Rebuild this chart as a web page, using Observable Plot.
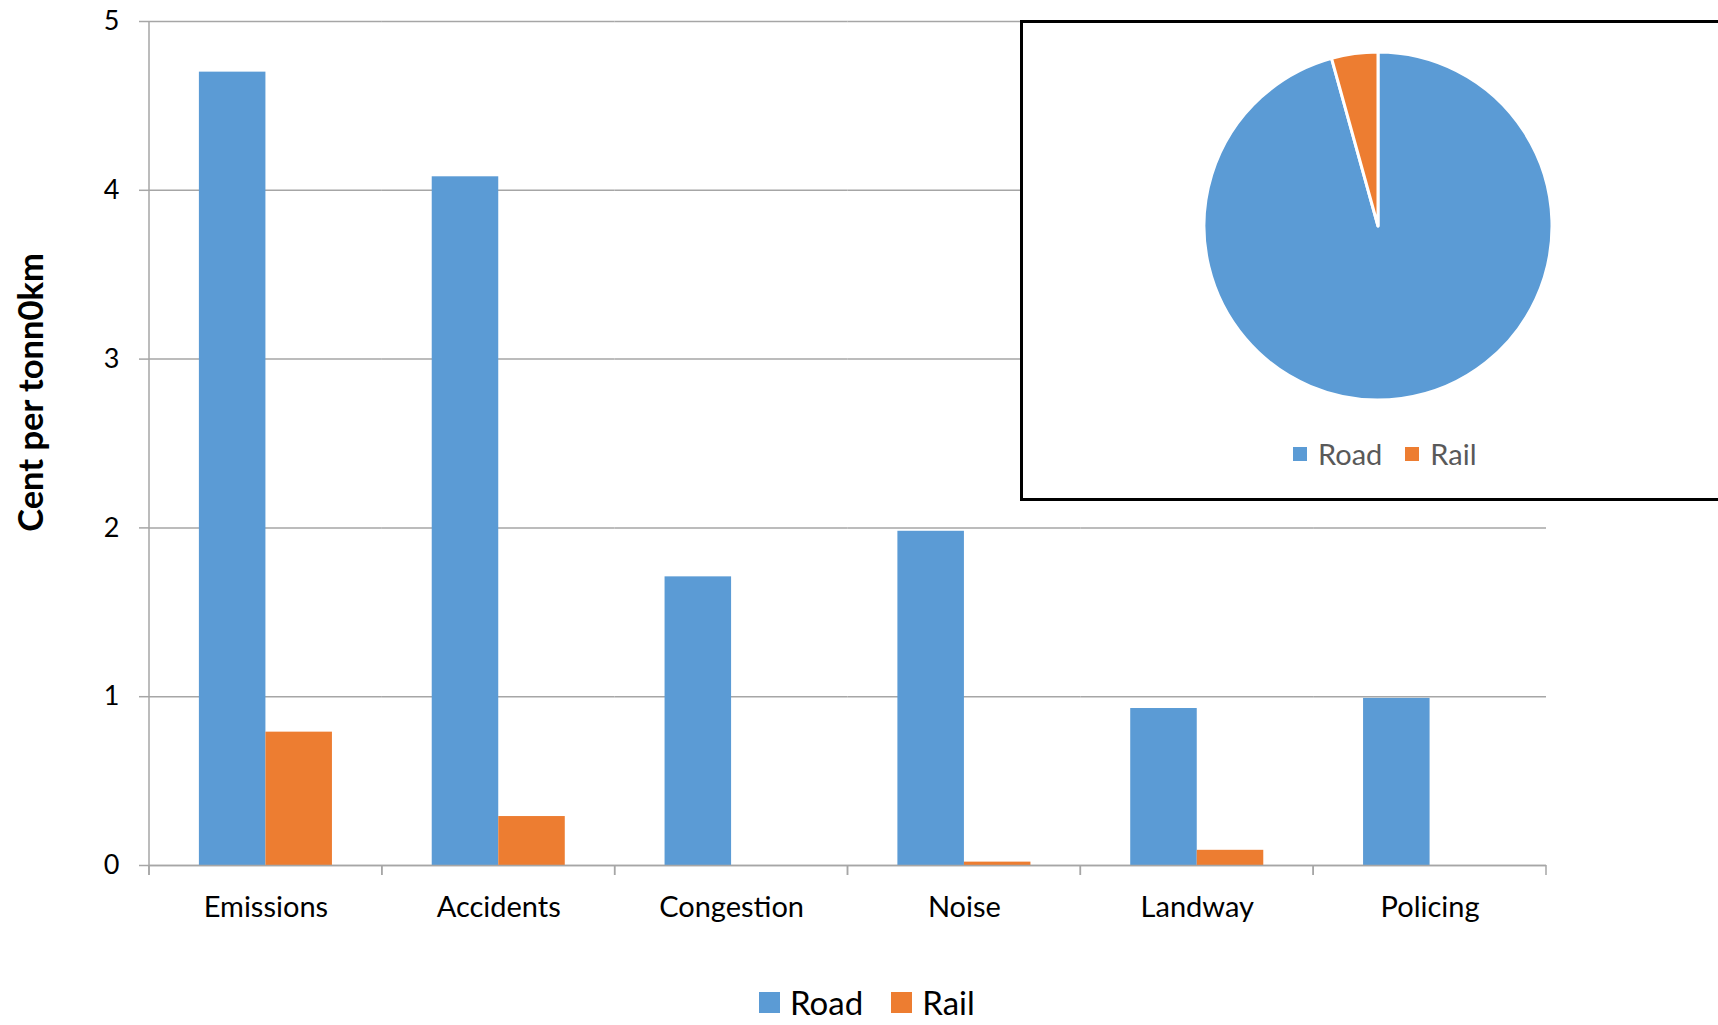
<!DOCTYPE html>
<html>
<head>
<meta charset="utf-8">
<script src="https://cdn.jsdelivr.net/npm/d3@7"></script>
<script src="https://cdn.jsdelivr.net/npm/@observablehq/plot@0.6"></script>
<style>
  html, body { margin: 0; background: #fff; }
  #chart { position: relative; width: 1718px; height: 1025px; overflow: hidden; font-family: Lato, sans-serif; background: #fff; }
  #main { position: absolute; left: 0; top: 0; }
  #inset { position: absolute; left: 1020px; top: 20px; width: 740px; height: 481px; box-sizing: border-box; border: 3px solid #000; background: #fff; }
  #pie { position: absolute; left: 181px; top: 29px; }
  .legend { position: absolute; display: flex; align-items: center; white-space: nowrap; }
  .legend .item { display: flex; align-items: center; }
  .legend .swatch { display: inline-block; }
  #legend-main { left: 759px; top: 986px; font-size: 33px; line-height: 33px; color: #000; }
  #legend-main .swatch { width: 21px; height: 21px; margin-right: 10px; }
  #legend-main .item + .item { margin-left: 28px; }
  #legend-pie { left: 270px; top: 416px; font-size: 29px; line-height: 29px; color: #595959; }
  #legend-pie .swatch { width: 14px; height: 14px; margin-right: 11px; }
  #legend-pie .item + .item { margin-left: 23px; }
</style>
</head>
<body>
<div id="chart">
  <div id="main"></div>
  <div id="inset">
    <div id="pie"></div>
    <div id="legend-pie" class="legend"></div>
  </div>
  <div id="legend-main" class="legend"></div>
</div>
<script>
// External cost per cost category, cent per tonne-km
const categories = ["Emissions", "Accidents", "Congestion", "Noise", "Landway", "Policing"];
const series = ["Road", "Rail"];
const roadCost = [4.70, 4.08, 1.71, 1.98, 0.93, 0.99];
const railCost = [0.79, 0.29, 0, 0.02, 0.09, 0];
const yTicks = [0, 1, 2, 3, 4, 5];
const yLabel = "Cent per tonn0km";

// Share of total external cost (inset pie), percent
const pieShare = [95.7, 4.3];

const seriesColors = ["#5B9BD5", "#ED7D31"];
const gridColor = "#a6a6a6";
const X_PAD = 0.75; // outer padding of the Road/Rail band inside each category

const rows = categories.flatMap((category, i) => [
  {category, series: series[0], value: roadCost[i]},
  {category, series: series[1], value: railCost[i]}
]);

// Small tick marks at the edges of each category band, plus the left axis line
const bandEdges = Plot.ruleY(categories, {
  fx: (d) => d,
  y: () => 0,
  render(index, scales) {
    const g = d3.create("svg:g").attr("stroke", gridColor).attr("stroke-width", 1.5).attr("fill", "none");
    if (!index.length) return g.node();
    const step = scales.x(series[1]) - scales.x(series[0]);
    const left = scales.x(series[0]) - X_PAD * step;
    const right = scales.x(series[1]) + step * (1 + X_PAD);
    const y0 = scales.y(0);
    for (const x of [left, right]) {
      g.append("line").attr("x1", x).attr("x2", x).attr("y1", y0).attr("y2", y0 + 10);
    }
    if (categories[index[0]] === categories[0]) {
      g.append("line").attr("x1", left).attr("x2", left)
        .attr("y1", scales.y(yTicks[yTicks.length - 1])).attr("y2", y0 + 10);
    }
    return g.node();
  }
});

const main = Plot.plot({
  width: 1718,
  height: 960,
  marginTop: 21,
  marginRight: 172,
  marginBottom: 95,
  marginLeft: 149,
  style: {fontFamily: "Lato, sans-serif", background: "transparent", color: "#000", overflow: "visible"},
  fx: {domain: categories, padding: 0, round: false, label: null},
  x: {domain: series, paddingInner: 0, paddingOuter: X_PAD, round: false, axis: null},
  y: {domain: [0, 5], label: null},
  color: {domain: series, range: seriesColors},
  marks: [
    Plot.gridY(yTicks, {stroke: gridColor, strokeOpacity: 1, strokeWidth: 1.5}),
    Plot.barY(rows, {fx: "category", x: "series", y: "value", fill: "series"}),
    Plot.ruleY([0], {stroke: gridColor, strokeWidth: 1.5}),
    bandEdges,
    Plot.axisY(yTicks, {tickSize: 10, tickPadding: 20, tickFormat: d3.format("d"), stroke: gridColor, strokeWidth: 1.5, fill: "#000", fontSize: 27, label: null}),
    Plot.axisFx({anchor: "bottom", tickSize: 0, tickPadding: 31, fontSize: 29, fill: "#000", label: null}),
    Plot.text([yLabel], {
      fx: () => categories[0],
      text: (d) => d,
      frameAnchor: "left",
      textAnchor: "middle",
      rotate: -90,
      dx: -118,
      dy: -51,
      fontSize: 34.5,
      fontWeight: "bold",
      fill: "#000"
    })
  ]
});
document.getElementById("main").append(main);

// Inset pie: Road vs Rail share, starting at 12 o'clock and running clockwise
const pie = Plot.plot({
  width: 348,
  height: 348,
  margin: 0,
  style: {background: "transparent", overflow: "visible"},
  x: {axis: null},
  y: {axis: null},
  color: {domain: series, range: seriesColors},
  marks: [
    Plot.dot(series, {
      x: () => 0,
      y: () => 0,
      fill: (d) => d,
      render(index, scales, values, dims) {
        const radius = Math.min(dims.width, dims.height) / 2;
        const arcs = d3.pie().sort(null).value((i) => pieShare[i])(index);
        const arc = d3.arc().innerRadius(0).outerRadius(radius);
        const g = d3.create("svg:g").attr("transform", `translate(${dims.width / 2},${dims.height / 2})`);
        g.selectAll("path")
          .data(arcs)
          .join("path")
          .attr("d", arc)
          .attr("fill", (a) => values.fill[a.data])
          .attr("stroke", "#fff")
          .attr("stroke-width", 3)
          .attr("stroke-linejoin", "round");
        return g.node();
      }
    })
  ]
});
document.getElementById("pie").append(pie);

// Legends
function legend(el) {
  const root = d3.select(el);
  series.forEach((name, i) => {
    const item = root.append("div").attr("class", "item");
    item.append("span").attr("class", "swatch").style("background", seriesColors[i]);
    item.append("span").text(name);
  });
}
legend(document.getElementById("legend-main"));
legend(document.getElementById("legend-pie"));
</script>
</body>
</html>
